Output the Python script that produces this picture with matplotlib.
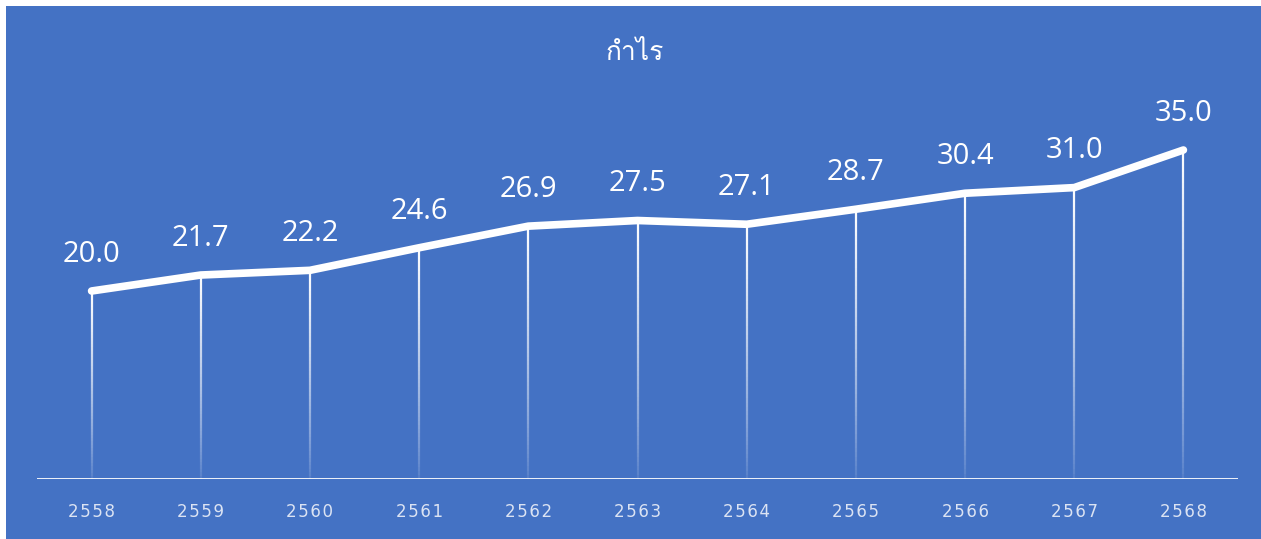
import numpy as np
import matplotlib
matplotlib.use('Agg')
import matplotlib.pyplot as plt
from matplotlib import font_manager
from matplotlib.ft2font import FT2Font
from matplotlib.collections import LineCollection
from matplotlib.patches import Rectangle

# data
years = ['2558', '2559', '2560', '2561', '2562', '2563', '2564', '2565', '2566', '2567', '2568']
profit = [20.0, 21.7, 22.2, 24.6, 26.9, 27.5, 27.1, 28.7, 30.4, 31.0, 35.0]
title = 'กำไร'

BLUE = '#4472c4'
TICK = '#dbe3f3'


def thai_font():
    # pick any installed font that has Thai glyphs
    for f in font_manager.fontManager.ttflist:
        try:
            cmap = FT2Font(f.fname).get_charmap()
        except Exception:
            continue
        if 0x0E01 in cmap and 0x0E33 in cmap:
            return f.name
    return 'DejaVu Sans'


W, H = 1261, 539
fig = plt.figure(figsize=(W / 100, H / 100), dpi=100)
fig.patch.set_facecolor('white')
fig.patches.append(Rectangle((6 / W, 0), 1, 1 - 6 / H, transform=fig.transFigure,
                             facecolor=BLUE, edgecolor='none', zorder=-5))

# axes placed in pixels: left 37, right 1238, baseline at y=479
top_px, base_px = 60, 479
ax = fig.add_axes([37 / W, (H - base_px) / H, (1238 - 37) / W, (base_px - top_px) / H])
ax.set_facecolor('none')
px_per_unit = 9.4
ax.set_xlim(-0.5, len(years) - 0.5)
ax.set_ylim(0, (base_px - top_px) / px_per_unit)

x = np.arange(len(years))

# fading drop lines
segs, cols = [], []
n = 60
for xi, v in zip(x, profit):
    ys = np.linspace(0, v, n + 1)
    for k in range(n):
        segs.append([(xi, ys[k]), (xi, ys[k + 1])])
        a = 0.08 + 0.92 * ((ys[k] + ys[k + 1]) / (2 * v)) ** 0.8
        cols.append((1, 1, 1, a))
ax.add_collection(LineCollection(segs, colors=cols, linewidths=1.6, zorder=2))

ax.plot(x, profit, color='white', lw=5.5, solid_capstyle='round',
        solid_joinstyle='round', zorder=3)

for xi, v in zip(x, profit):
    ax.annotate(f'{v:.1f}', (xi, v), xytext=(0, 21), textcoords='offset points',
                ha='center', va='baseline', color='white', fontsize=21,
                family=['Open Sans', 'DejaVu Sans'])

ax.axhline(0, color='white', lw=2.0, zorder=4)

for s in ax.spines.values():
    s.set_visible(False)
ax.set_yticks([])
ax.set_xticks(x)
# letter-spaced year labels
ax.set_xticklabels(['\u200a'.join(y) for y in years], color=TICK, fontsize=12,
                   family='DejaVu Sans')
ax.tick_params(axis='x', length=0, pad=17)

fig.text(635 / W, 1 - 53 / H, title, ha='center', va='center', color='white',
         fontsize=19, family=[thai_font(), 'DejaVu Sans'])

fig.savefig('out.png', dpi=100, facecolor=fig.get_facecolor())
